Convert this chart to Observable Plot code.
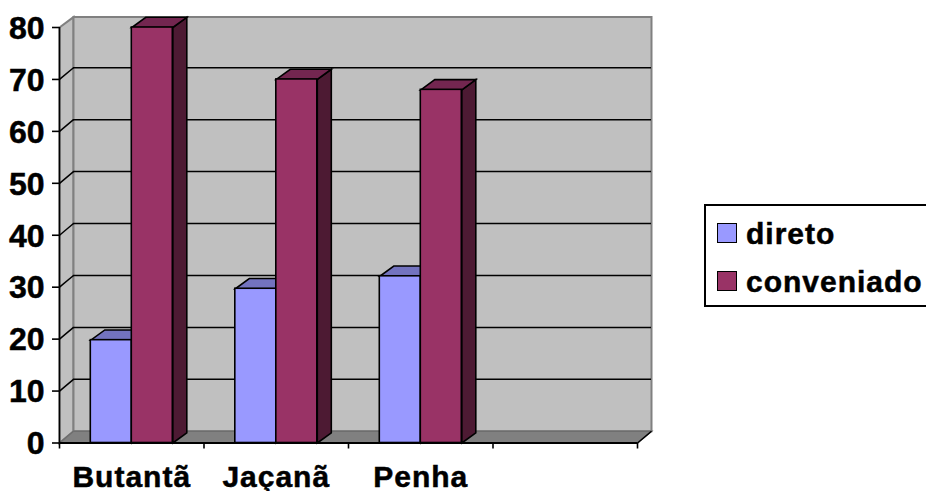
<!DOCTYPE html>
<html>
<head>
<meta charset="utf-8">
<script src="https://cdn.jsdelivr.net/npm/d3@7"></script>
<script src="https://cdn.jsdelivr.net/npm/@observablehq/plot@0.6"></script>
<style>
html,body{margin:0;padding:0;background:#fff;width:926px;height:491px;overflow:hidden}
#chart{position:absolute;left:0;top:0}
#chart text{paint-order:stroke;stroke:#000;stroke-width:0.5px}
#chart g[aria-label="text"]{letter-spacing:1px}
#chart g[aria-label="text"][font-size="32"]{letter-spacing:0}
#legend{position:absolute;left:704px;top:204px;width:230px;height:99px;border:2px solid #000;box-sizing:content-box;background:#fff;
  font:bold 30px "Liberation Sans",Arial,sans-serif;color:#000;letter-spacing:1px;-webkit-text-stroke:0.5px #000}
.item{position:absolute;left:40px;white-space:nowrap;line-height:34px}
.sw{position:absolute;left:11px;width:18px;height:18px;border:1.5px solid #000}
</style>
</head>
<body>
<div id="chart"></div>
<div id="legend">
  <span class="sw" style="top:17px;background:#9999ff"></span><span class="item" style="top:11px">direto</span>
  <span class="sw" style="top:65px;background:#993366"></span><span class="item" style="top:59px">conveniado</span>
</div>
<script>
const categories = ["Butantã", "Jaçanã", "Penha", ""];
const direto = [19.8, 29.7, 32.1];
const conveniado = [80, 70, 68];
const yTicks = [0, 10, 20, 30, 40, 50, 60, 70, 80];
const gridValues = [10, 20, 30, 40, 50, 60, 70];
const xTicks = [0, 1, 2, 3, 4];

// 3-D extrusion, expressed in data units
const depthX = 14 / 144.5;
const barDepthY = 10.2 / 5.19;
const wallDepthY = 11.7 / 5.19;
const wallTop = 79.75;
const barW = 41 / 144.5;
const groupStart = 31.3 / 144.5;

function poly(points, fill, stroke, strokeWidth) {
  const pts = points.map(([x, y]) => ({x, y}));
  return Plot.line(pts, {x: "x", y: "y", fill, stroke, strokeWidth, curve: "linear-closed", strokeLinejoin: "miter", strokeMiterlimit: 4});
}
function bar3d(i, slot, v, front, top, side) {
  const x1 = i + groupStart + slot * barW, x2 = x1 + barW;
  return [
    poly([[x2, 0], [x2 + depthX, barDepthY], [x2 + depthX, v + barDepthY], [x2, v]], side, "#000", 1.6),
    poly([[x1, v], [x2, v], [x2 + depthX, v + barDepthY], [x1 + depthX, v + barDepthY]], top, "#000", 1.6),
    Plot.rect([{x1, x2, y1: 0, y2: v}], {x1: "x1", x2: "x2", y1: "y1", y2: "y2", fill: front, stroke: "#000", strokeWidth: 1.6})
  ];
}

const bars = categories.slice(0, direto.length).flatMap((c, i) => [
  ...bar3d(i, 0, direto[i], "#9999ff", "#7373bf", "#4d4d80"),
  ...bar3d(i, 1, conveniado[i], "#993366", "#732650", "#4d1a33")
]);

const chart = Plot.plot({
  width: 926,
  height: 491,
  marginLeft: 59,
  marginRight: 289,
  marginTop: 27,
  marginBottom: 48.5,
  style: {fontFamily: "'Liberation Sans', Arial, sans-serif", fontWeight: "bold", fontSize: "30px", color: "#000", background: "transparent", overflow: "visible"},
  x: {domain: [0, 4], label: null},
  y: {domain: [0, 80], label: null},
  marks: [
    // left wall and back wall
    poly([[0, 0], [depthX, wallDepthY], [depthX, wallTop + wallDepthY], [0, 80]], "#c0c0c0", "#808080", 2),
    poly([[depthX, wallDepthY], [4 + depthX, wallDepthY], [4 + depthX, wallTop + wallDepthY], [depthX, wallTop + wallDepthY]], "#c0c0c0", "#808080", 2),
    // floor
    poly([[0, 0], [4, 0], [4 + depthX, wallDepthY], [depthX, wallDepthY]], "#808080", "#6e6e6e", 1.5),
    // gridlines
    Plot.ruleY(gridValues, {y: d => d + wallDepthY, x1: depthX, x2: 4 + depthX, stroke: "#000", strokeWidth: 1.5}),
    Plot.link(gridValues, {x1: () => 0, x2: () => depthX, y1: d => d, y2: d => d + wallDepthY, stroke: "#000", strokeWidth: 1.5}),
    Plot.link([0], {x1: () => 4, x2: () => 4 + depthX, y1: d => d, y2: d => d + wallDepthY, stroke: "#000", strokeWidth: 1.5}),
    // bars
    ...bars,
    // axes
    Plot.ruleX([0], {y1: 0, y2: 80, stroke: "#000", strokeWidth: 1.6}),
    Plot.ruleY([0], {x1: 0, x2: 4, stroke: "#000", strokeWidth: 2}),
    Plot.axisY({ticks: yTicks, tickSize: 7, strokeWidth: 1.6, stroke: "#000", tickFormat: () => ""}),
    Plot.text(yTicks, {y: d => d, frameAnchor: "left", textAnchor: "end", text: d => String(d), dx: -15, dy: 1, fontSize: 32, fill: "#000"}),
    Plot.axisX({ticks: xTicks, tickSize: 6, strokeWidth: 1.6, tickFormat: () => ""}),
    Plot.text(categories, {x: (d, i) => i + 0.5, y: () => 0, text: d => d, dy: 34, fill: "#000"})
  ]
});
document.getElementById("chart").append(chart);
</script>
</body>
</html>
